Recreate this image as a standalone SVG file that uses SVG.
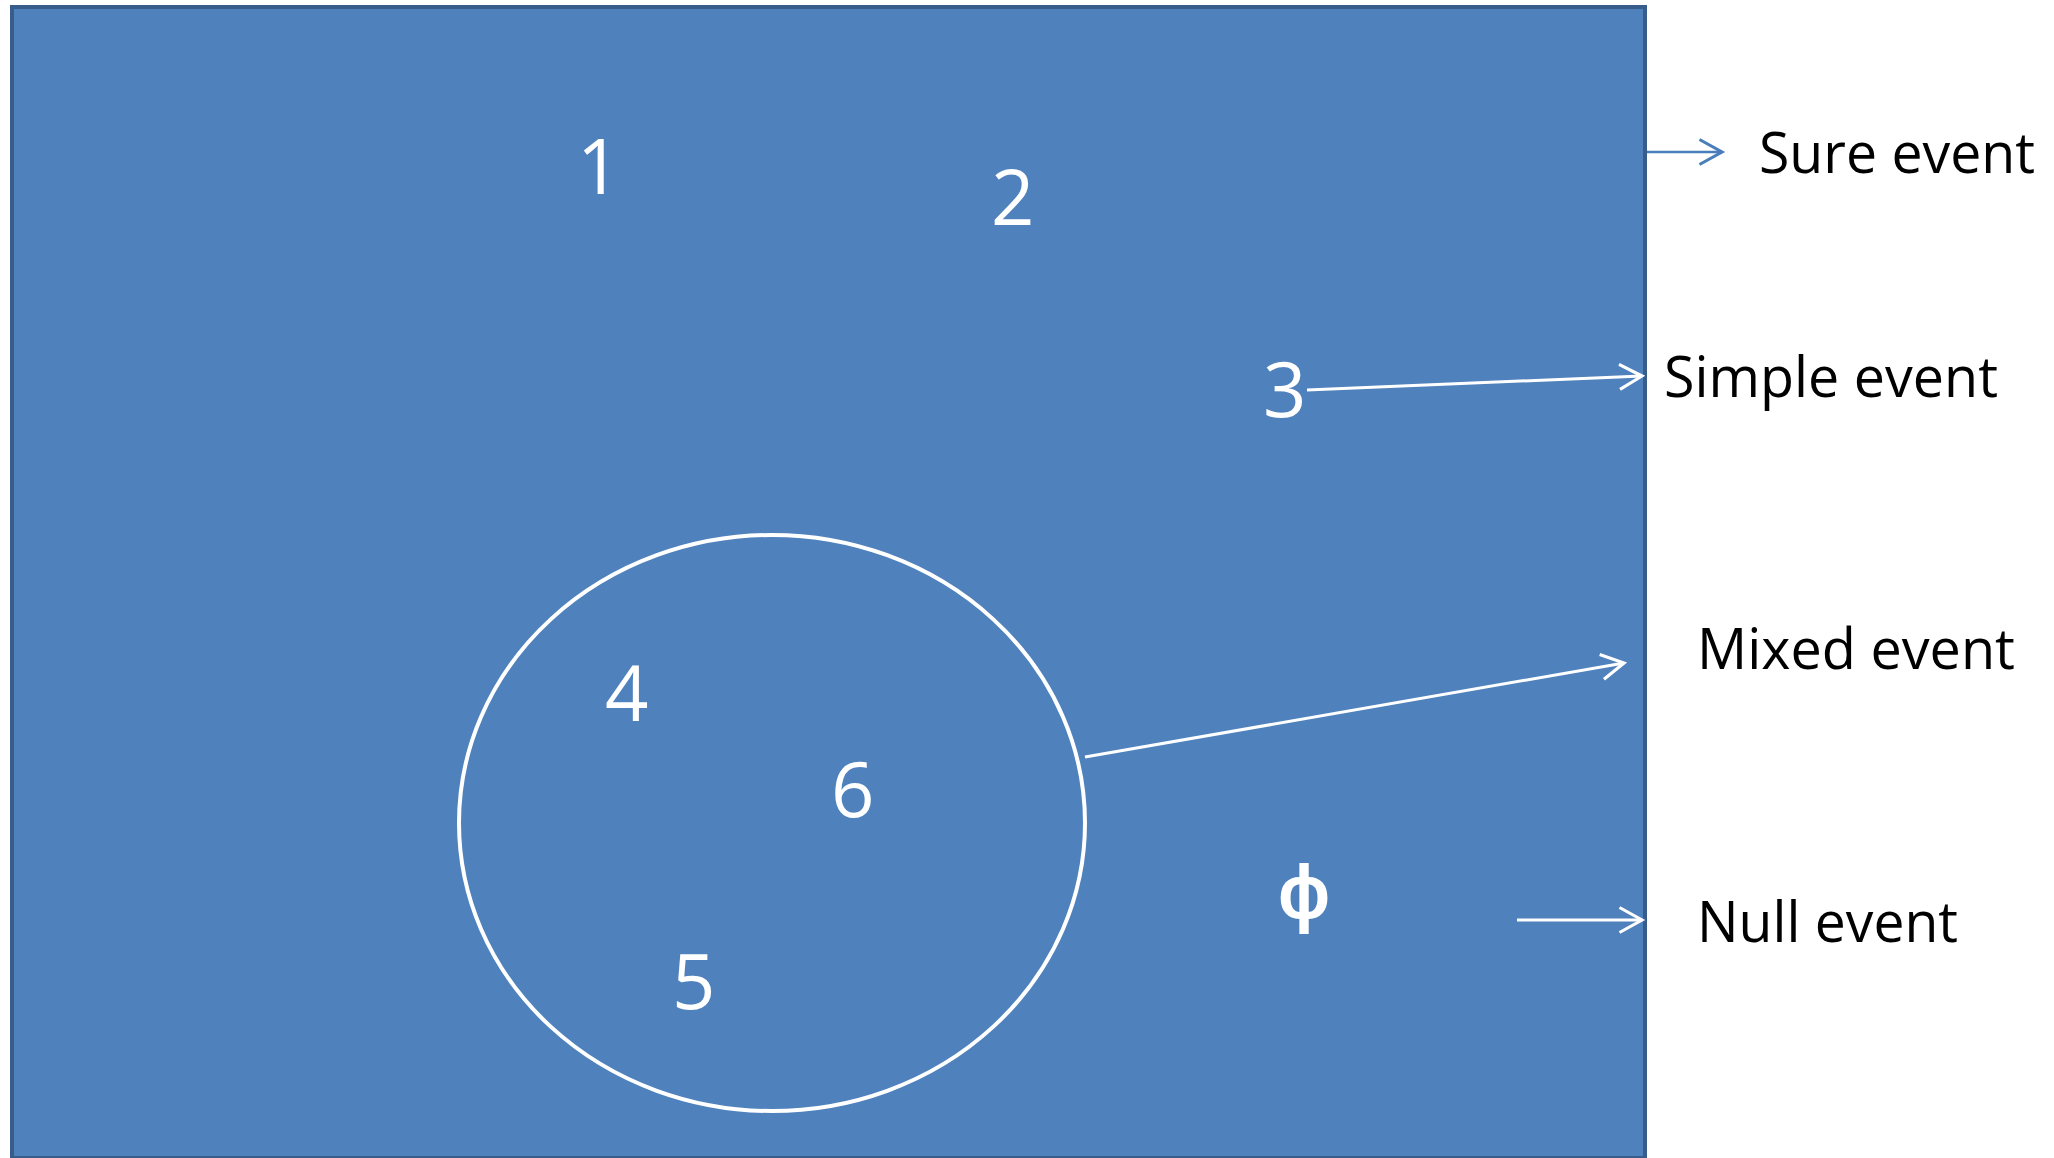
<svg xmlns="http://www.w3.org/2000/svg" width="2054" height="1158" viewBox="0 0 2054 1158">
<style>
.num{font-family:"Open Sans","Liberation Sans",sans-serif;font-size:76px;fill:#ffffff}
.lbl{font-family:"Open Sans","Liberation Sans",sans-serif;font-size:56px;fill:#000000}
.wl{stroke:#ffffff;stroke-width:3;fill:none}
.bl{stroke:#4A7EBB;stroke-width:2.5;fill:none}
</style>
<defs>
<marker id="aw" markerUnits="userSpaceOnUse" markerWidth="30" markerHeight="30" viewBox="-20 -12 24 24" refX="0" refY="0" orient="auto">
<path d="M-18,-10 L0,0 L-18,10" fill="none" stroke="#ffffff" stroke-width="2.5"/>
</marker>
<marker id="ab" markerUnits="userSpaceOnUse" markerWidth="30" markerHeight="30" viewBox="-20 -12 24 24" refX="0" refY="0" orient="auto">
<path d="M-18,-10 L0,0 L-18,10" fill="none" stroke="#4A7EBB" stroke-width="2.5"/>
</marker>
</defs>
<rect width="2054" height="1158" fill="#ffffff"/>
<g id="sample-space">
<rect x="12" y="7" width="1633" height="1151" fill="#4F81BD" stroke="#385D8A" stroke-width="4"/>
</g>
<g id="mixed-set">
<ellipse cx="772" cy="823" rx="313" ry="288" fill="none" stroke="#ffffff" stroke-width="4"/>
</g>
<g id="outcomes">
<text class="num" x="577" y="194">1</text>
<text class="num" x="991" y="225">2</text>
<text class="num" x="1263" y="417">3</text>
<text class="num" x="605" y="721">4</text>
<text class="num" x="672" y="1009">5</text>
<text class="num" x="831" y="817">6</text>
<text class="num" x="1278" y="918" font-weight="600" textLength="52" lengthAdjust="spacingAndGlyphs">ϕ</text>
</g>
<g id="labels">
<text class="lbl" x="1759" y="173" textLength="276" lengthAdjust="spacingAndGlyphs">Sure event</text>
<text class="lbl" x="1664" y="397" textLength="334" lengthAdjust="spacingAndGlyphs">Simple event</text>
<text class="lbl" x="1697" y="669" textLength="318" lengthAdjust="spacingAndGlyphs">Mixed event</text>
<text class="lbl" x="1697" y="942" textLength="261" lengthAdjust="spacingAndGlyphs">Null event</text>
</g>
<g id="connectors">
<line class="bl" x1="1647" y1="152" x2="1722" y2="152" marker-end="url(#ab)"/>
<line class="wl" x1="1307" y1="390" x2="1642" y2="376" marker-end="url(#aw)"/>
<line class="wl" x1="1085" y1="757" x2="1624" y2="663" marker-end="url(#aw)"/>
<line class="wl" x1="1517" y1="920" x2="1642" y2="920" marker-end="url(#aw)"/>
</g>
</svg>
